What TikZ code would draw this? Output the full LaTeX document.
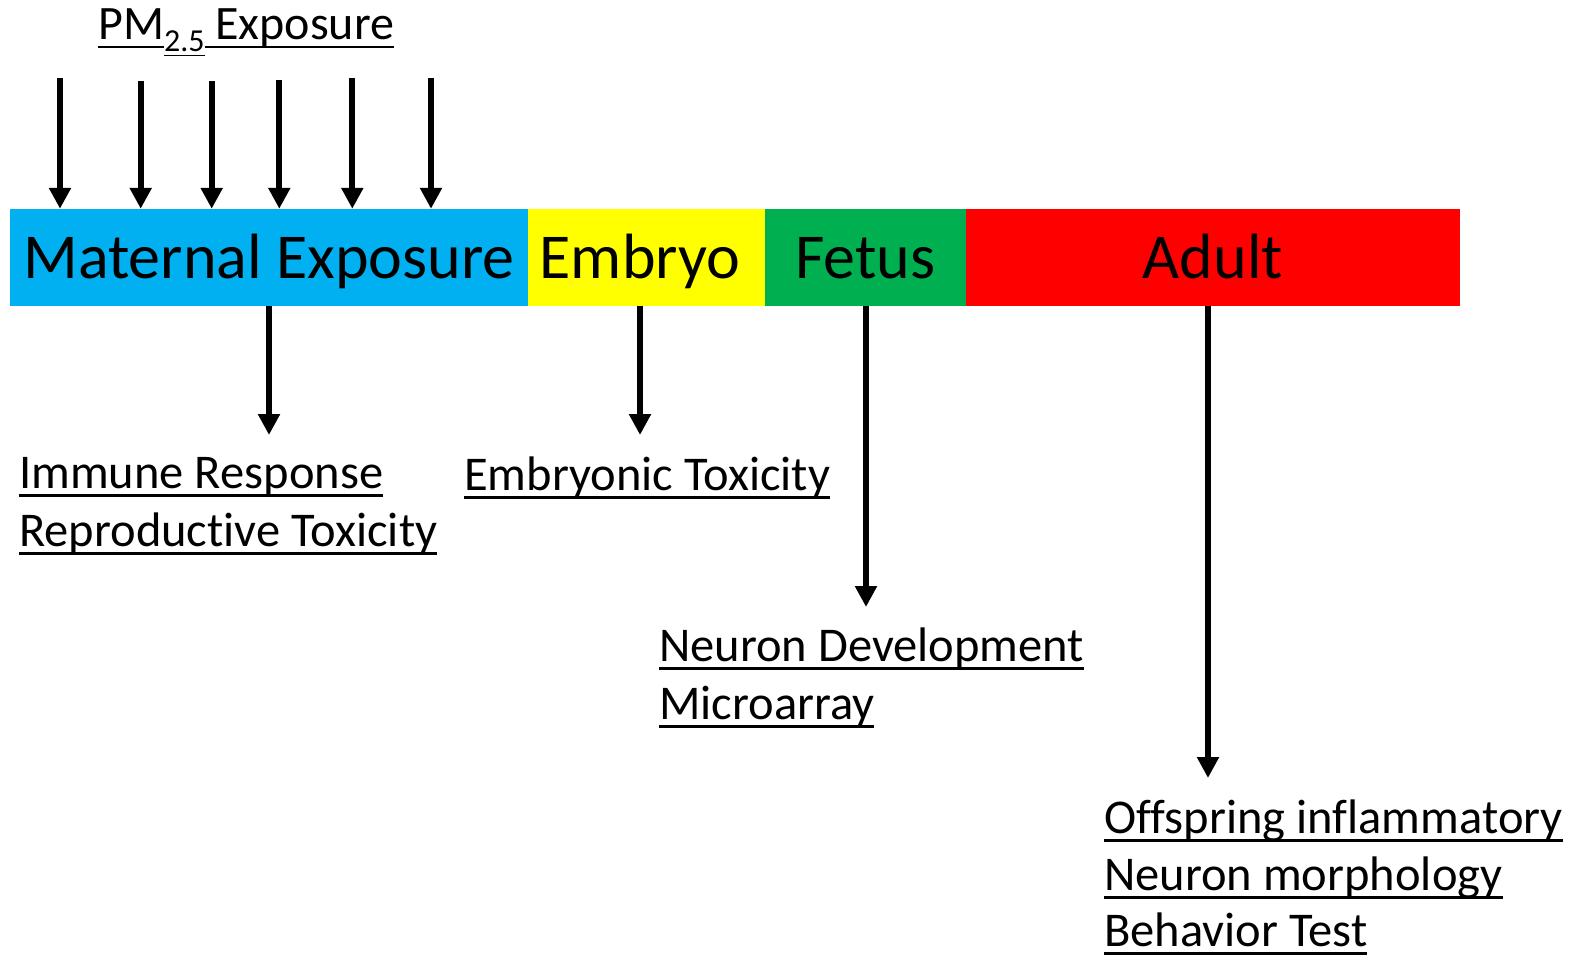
\documentclass[tikz,border=0pt]{standalone}
\usepackage{fontspec}
\setmainfont{Carlito}[Ligatures={NoCommon}]
\usetikzlibrary{arrows.meta}
\definecolor{cblue}{HTML}{00B0F0}
\definecolor{cyellow}{HTML}{FFFF00}
\definecolor{cgreen}{HTML}{00B050}
\definecolor{cred}{HTML}{FF0000}
\newcommand\ulbox[2][0.18em]{\leavevmode\setbox0=\hbox{#2}\rlap{\rule[-#1]{\wd0}{0.055em}}\box0}
\tikzset{
  seg/.style={draw=none, inner sep=0pt, minimum height=97pt, text height=43pt, text depth=0pt, font=\fontsize{64}{72}\selectfont},
  lab/.style={anchor=base west, inner sep=0pt, font=\fontsize{48.5}{58}\selectfont},
  arr/.style={line width=6pt, -{Triangle[width=21pt,length=21pt]}},
}
\begin{document}
\begin{tikzpicture}[x=1pt,y=-1pt]
\useasboundingbox (0,0) rectangle (1579,957);
% bar
\node[seg, fill=cblue, minimum width=518pt] (mat) at (269,257.5) {Maternal Exposure};
\node[seg, fill=cyellow, minimum width=237pt] (emb) at (646.5,257.5) {Embryo\hspace*{13pt}};
\node[seg, fill=cgreen, minimum width=201pt] (fet) at (865.5,257.5) {Fetus};
\node[seg, fill=cred, minimum width=494pt] (adu) at (1213,257.5) {Adult};
% exposure title
\node[anchor=base west, inner sep=0pt, font=\fontsize{48}{56}\selectfont] (pm) at (98,40)
  {\ulbox[0.17em]{PM}\raisebox{-12pt}{\fontsize{32}{36}\selectfont\ulbox[0.14em]{2.5}}\ulbox[0.17em]{\ Exposure}};
% top arrows
\coordinate (t1) at (60,78);
\coordinate (t2) at (140.7,81);
\coordinate (t3) at (211.7,81);
\coordinate (t4) at (279.3,80);
\coordinate (t5) at (352.3,78);
\coordinate (t6) at (431,78);
\foreach \t in {t1,t2,t3,t4,t5,t6}{\draw[arr] (\t) -- (\t |- mat.north);}
% down arrows
\coordinate (d1) at (269,435);
\coordinate (d2) at (640,435);
\coordinate (d3) at (866,607);
\coordinate (d4) at (1208,778);
\draw[arr] (mat.south -| d1) -- (d1);
\draw[arr] (emb.south -| d2) -- (d2);
\draw[arr] (fet.south -| d3) -- (d3);
\draw[arr] (adu.south -| d4) -- (d4);
% labels
\node[lab] (l1) at (19,488) {\ulbox{Immune Response}};
\node[lab] (l2) at (19,546) {\ulbox{Reproductive Toxicity}};
\node[lab] (l3) at (464,490) {\ulbox{Embryonic Toxicity}};
\node[lab] (l4) at (659,661) {\ulbox{Neuron Development}};
\node[lab] (l5) at (659,719) {\ulbox{Microarray}};
\node[lab] (l6) at (1104,833) {\ulbox{Offspring inflammatory}};
\node[lab] (l7) at (1104,890) {\ulbox{Neuron morphology}};
\node[lab] (l8) at (1104,946) {\ulbox{Behavior Test}};
\end{tikzpicture}
\end{document}
